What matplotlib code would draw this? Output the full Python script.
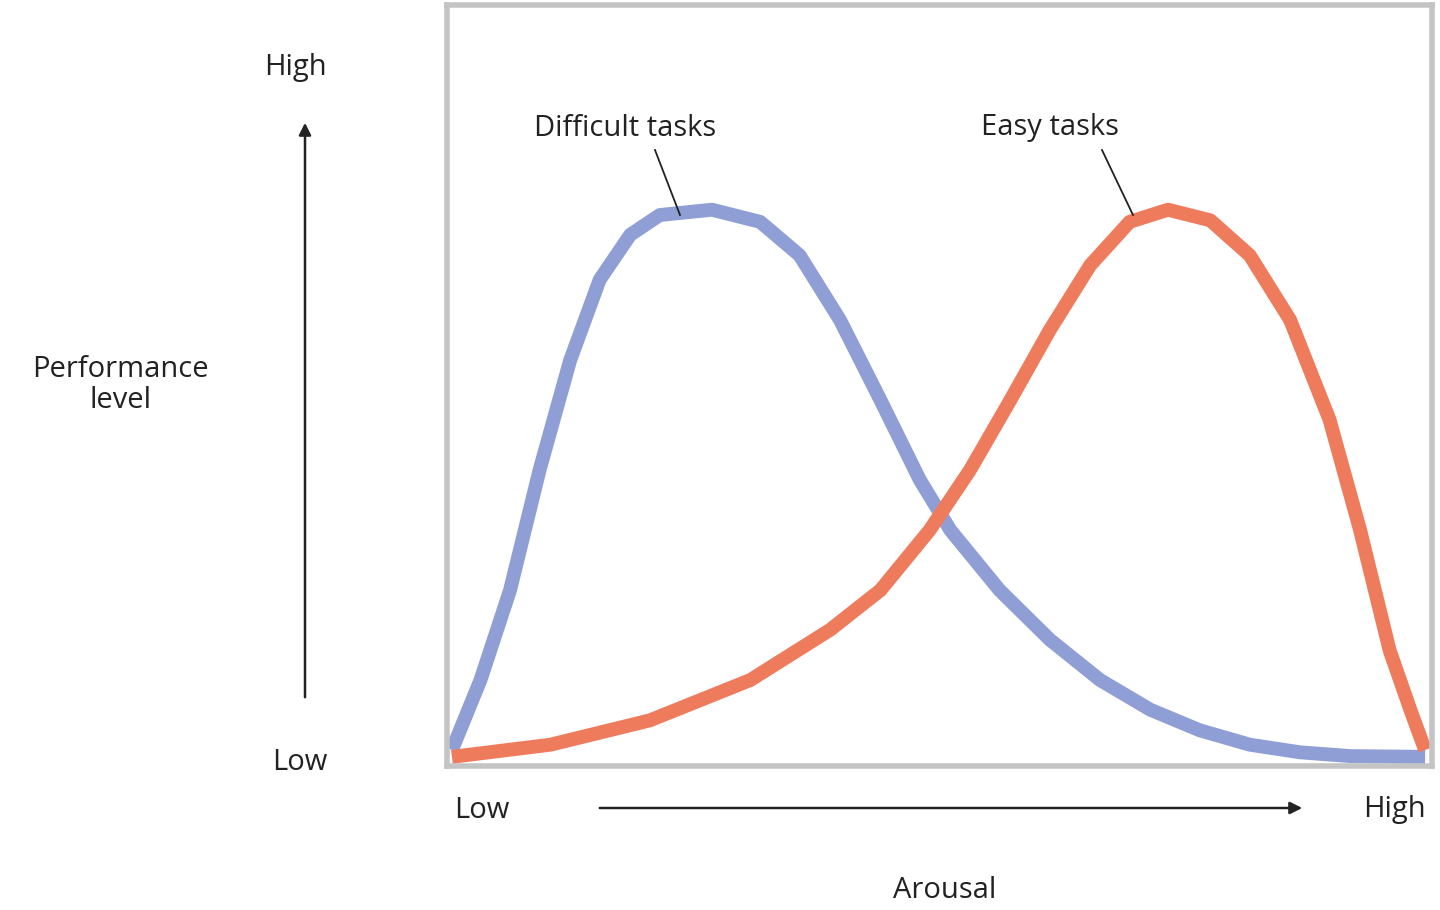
import matplotlib
matplotlib.use("Agg")
import matplotlib.pyplot as plt

diff_x = [0.5,3.4,6.4,9.4,12.5,15.5,18.6,21.6,26.9,31.8,35.8,39.9,44.0,48.0,51.1,56.1,61.2,66.3,71.4,76.4,81.5,86.6,91.7,99.3]
diff_y = [2.1,11.3,23.1,38.9,53.3,63.9,69.8,72.4,73.1,71.5,67.1,58.6,48.1,37.6,31.0,23.1,16.6,11.3,7.4,4.7,2.8,1.8,1.3,1.2]
easy_x = [0.5,10.5,20.6,30.8,38.9,44.0,49.0,53.1,57.2,61.2,65.3,69.3,73.2,77.5,81.5,85.6,89.6,92.7,95.7,97.8,99.3]
easy_y = [1.2,2.8,6.0,11.3,17.9,23.1,31.0,38.9,48.1,57.3,65.8,71.5,73.1,71.7,67.1,58.6,45.5,31.0,15.2,7.4,2.1]
labels = ["Difficult tasks", "Easy tasks"]

W, H = 1440, 910
fig = plt.figure(figsize=(14.4, 9.1), dpi=100)
ax = fig.add_axes([447/W, 1-766/H, 985/W, 761/H])
ax.set_xlim(0, 100); ax.set_ylim(0, 100)
ax.set_xticks([]); ax.set_yticks([])
for s in ax.spines.values():
    s.set_color("#c4c4c4"); s.set_linewidth(4)
ax.plot(diff_x, diff_y, color="#8f9fd6", lw=10, solid_capstyle="butt")
ax.plot(easy_x, easy_y, color="#ef7b5d", lw=10, solid_capstyle="butt")

def fx(px): return px/W
def fy(py): return 1-py/H
ff = dict(family=["Open Sans", "DejaVu Sans"], fontsize=21, color="#222222")
fig.text(fx(295), fy(68), "High", ha="center", va="center", **ff)
fig.text(fx(300), fy(762), "Low", ha="center", va="center", **ff)
fig.text(fx(120), fy(385), "Performance\nlevel", ha="center", va="center", linespacing=1.1, **ff)
fig.text(fx(482), fy(810), "Low", ha="center", va="center", **ff)
fig.text(fx(1394), fy(810), "High", ha="center", va="center", **ff)
fig.text(fx(945), fy(890), "Arousal", ha="center", va="center", **ff)
fig.text(fx(625), fy(128), labels[0], ha="center", va="center", **ff)
fig.text(fx(1050), fy(128), labels[1], ha="center", va="center", **ff)

fig.add_artist(plt.Line2D([fx(655), fx(680)], [fy(150), fy(215)], color="#222", lw=1.3))
fig.add_artist(plt.Line2D([fx(1102), fx(1133)], [fy(150), fy(215)], color="#222", lw=1.3))
fig.patches.append(matplotlib.patches.FancyArrowPatch((fx(305), fy(700)), (fx(305), fy(120)),
    transform=fig.transFigure, arrowstyle="-|>", mutation_scale=18, color="#222", lw=1.8))
fig.patches.append(matplotlib.patches.FancyArrowPatch((fx(597), fy(808)), (fx(1305), fy(808)),
    transform=fig.transFigure, arrowstyle="-|>", mutation_scale=18, color="#222", lw=1.8))
fig.savefig("out.png", dpi=100)
